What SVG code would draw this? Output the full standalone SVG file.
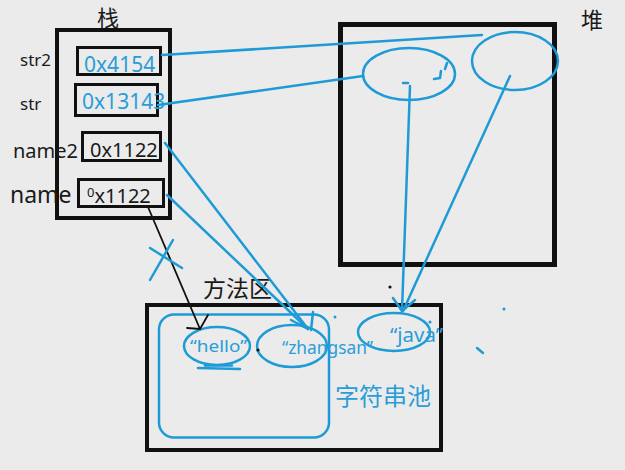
<svg xmlns="http://www.w3.org/2000/svg" width="625" height="470" viewBox="0 0 625 470">
<style>
.bx{fill:none;stroke:#111;}
.bl{fill:none;stroke:#1e9bd7;stroke-width:2.5;stroke-linecap:round;stroke-linejoin:round;}
.blk{fill:none;stroke:#111;stroke-width:1.8;stroke-linecap:round;}
.lat{font-family:"Noto Sans","Liberation Sans",sans-serif;}
.cjk{font-family:"Noto Sans CJK SC","Noto Sans",sans-serif;}
.blue{fill:#2a9dd8;}
.dark{fill:#1a1a1a;}
</style>
<rect x="0" y="0" width="625" height="470" fill="#ebebeb"/>

<g id="stack">
  <rect class="bx" x="57" y="30" width="113" height="188" stroke-width="4"/>
  <text class="cjk dark" x="108" y="26" font-size="22" text-anchor="middle">栈</text>
</g>
<g id="str2">
  <text class="lat dark" x="20" y="66" font-size="17">str2</text>
  <rect class="bx" x="77.5" y="47.5" width="83" height="27" stroke-width="3"/>
  <text class="lat blue" x="84" y="72" font-size="21">0x4154</text>
</g>
<g id="str">
  <text class="lat dark" x="20" y="110" font-size="17">str</text>
  <rect class="bx" x="75.5" y="84.5" width="82" height="31" stroke-width="3"/>
  <text class="lat blue" x="82" y="109" font-size="21">0x13143</text>
</g>
<g id="name2">
  <text class="lat dark" x="13" y="158" font-size="20">name2</text>
  <rect class="bx" x="82.5" y="132.5" width="78" height="28" stroke-width="3"/>
  <text class="lat dark" x="90" y="157" font-size="20">0x1122</text>
</g>
<g id="name">
  <text class="lat dark" x="10" y="203" font-size="23">name</text>
  <rect class="bx" x="78.5" y="179.5" width="85" height="27" stroke-width="3"/>
  <text class="lat dark" x="87" y="203" font-size="20"><tspan font-size="13" dy="-6">0</tspan><tspan dy="6">x1122</tspan></text>
</g>

<g id="heap">
  <rect class="bx" x="340.5" y="24.5" width="214" height="240" stroke-width="5"/>
  <text class="cjk dark" x="592" y="28" font-size="22" text-anchor="middle">堆</text>
</g>
<g id="heap-obj1">
  <ellipse class="bl" cx="409" cy="74" rx="46" ry="26"/>
  <path class="bl" d="M403,83 L408,83 M441,71 L440,78 L434,79 M447,63 L445,69" stroke-width="1.8"/>
</g>
<g id="heap-obj2">
  <ellipse class="bl" cx="515" cy="61" rx="43" ry="29"/>
</g>

<g id="method-area">
  <rect class="bx" x="147" y="305" width="294" height="145" stroke-width="4"/>
  <text class="cjk dark" x="203" y="297" font-size="23">方法区</text>
</g>
<g id="string-pool">
  <rect class="bl" x="159" y="314.5" width="170" height="123" rx="15"/>
  <text class="cjk blue" x="335" y="405" font-size="24">字符串池</text>
</g>
<g id="hello">
  <ellipse class="bl" cx="217" cy="346" rx="33" ry="19"/>
  <text class="lat blue" x="190" y="352" font-size="17" textLength="57" lengthAdjust="spacingAndGlyphs">“hello”</text>
  <path class="bl" d="M198,368 L240,369 M205,365.5 L232,365.5" stroke-width="2.5"/>
</g>
<g id="zhangsan">
  <ellipse class="bl" cx="292" cy="346" rx="35" ry="21"/>
  <text class="lat blue" x="282" y="354" font-size="18" textLength="91" lengthAdjust="spacingAndGlyphs">“zhangsan”</text>
</g>
<g id="java">
  <ellipse class="bl" cx="394" cy="332" rx="36" ry="19"/>
  <text class="lat blue" x="390" y="342" font-size="20" textLength="53" lengthAdjust="spacingAndGlyphs">“java”</text>
</g>

<g id="connectors">
  <path class="bl" d="M162,55 L482,35"/>
  <path class="bl" d="M158,105 L363,76"/>
  <path class="bl" d="M410,86 L402,311 M393,298 L402,311 L415,300"/>
  <path class="bl" d="M510,76 L403,311"/>
  <path class="bl" d="M165,143 L308,329"/>
  <path class="bl" d="M167,195 L308,329 M291,320 L308,329 M313,312 L311,330"/>
  <path class="blk" d="M148,207 L200,329 M187,328 L200,329 L208,315"/>
  <path class="bl" d="M150,280 L173,240 M150,248 L182,268" stroke-width="3"/>
</g>

<g id="marks">
  <circle cx="390" cy="287" r="1.6" fill="#111"/>
  <circle cx="258" cy="350" r="1.6" fill="#111"/>
  <circle cx="335" cy="317" r="1.5" fill="#1e9bd7"/>
  <circle cx="430" cy="322" r="1.5" fill="#1e9bd7"/>
  <circle cx="504" cy="309" r="1.6" fill="#1e9bd7"/>
  <path class="bl" d="M477,348 L483,353" stroke-width="3"/>
</g>
</svg>
